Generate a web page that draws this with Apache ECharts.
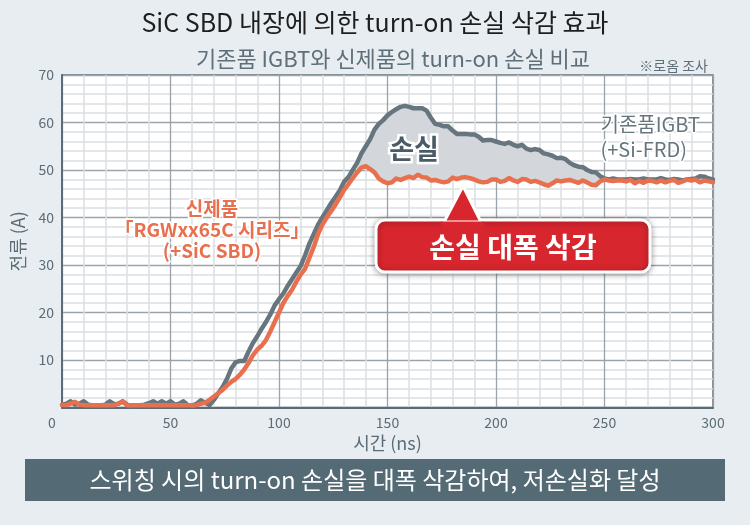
<!DOCTYPE html>
<html><head><meta charset="utf-8">
<script src="https://cdn.jsdelivr.net/npm/echarts@6/dist/echarts.min.js"></script>
<style>html,body{margin:0;padding:0;background:#e8edf1;}#c{width:750px;height:525px;}</style>
</head><body><div id="c"></div>
<script>
const times = [];
for (let t = 0; t <= 300; t += 2) times.push(t);
const igbtCurrent = [
0.6,0.8,1.3,0.6,0.8,1.3,0.6,0.5,0.5,0.5,
0.6,1.3,0.7,0.8,1.3,0.6,0.2,0.5,0.5,0.6,
0.9,1.3,0.8,1.3,0.8,1.3,0.6,0.8,1.3,0.5,
0.4,0.8,1.5,1.0,0.5,1.6,3.0,4.3,6.0,8.2,
9.5,9.8,9.8,11.8,13.6,15.0,16.6,18.0,19.6,21.5,
22.8,24.0,25.6,27.0,28.4,29.8,32.0,34.5,36.5,38.5,
40.0,41.5,43.0,44.3,45.7,47.5,48.5,50.0,51.5,53.5,
55.0,56.5,58.5,59.7,60.5,61.5,62.2,62.8,63.3,63.5,
63.3,63.0,63.0,63.0,62.5,61.0,59.7,59.5,59.2,59.2,
58.3,57.6,57.6,57.6,57.5,57.5,57.0,56.2,56.3,56.3,
56.0,55.7,55.5,55.8,55.3,55.0,55.3,54.5,54.2,54.4,
54.2,53.5,53.3,53.0,52.5,52.6,52.3,51.5,51.0,50.7,
50.6,50.0,49.6,49.5,48.7,48.2,48.0,48.2,48.0,48.0,
48.0,48.1,48.0,48.0,48.2,48.0,48.0,48.0,48.3,48.0,
47.9,48.1,48.0,47.8,48.0,48.1,48.2,48.7,48.6,48.2,
48.0];
const sicCurrent = [
0.6,0.5,0.8,1.2,0.6,0.5,0.5,0.5,0.5,0.5,
0.5,0.5,0.5,0.8,1.2,0.5,0.5,0.5,0.5,0.5,
0.5,0.5,0.5,0.5,0.5,0.5,0.5,0.5,0.5,0.5,
0.4,0.5,0.8,1.0,1.6,2.3,3.0,3.7,4.6,5.4,
6.0,6.9,8.0,9.4,11.0,12.2,13.0,14.2,16.0,18.0,
20.0,22.0,23.5,24.8,26.5,28.0,29.2,31.5,33.8,36.5,
38.5,40.0,41.3,42.7,44.2,45.8,47.0,48.3,49.5,50.5,
50.8,50.2,49.5,48.2,47.6,47.2,47.4,48.2,47.9,48.3,
48.6,48.3,49.0,48.5,48.4,47.8,47.9,47.6,47.4,47.6,
48.4,48.1,48.4,48.5,48.3,48.0,47.6,47.4,47.5,48.0,
48.0,47.5,47.7,48.3,47.8,47.5,48.1,48.0,47.5,47.7,
47.4,47.0,46.7,47.2,47.8,47.6,47.8,47.9,47.6,47.3,
47.8,47.4,46.9,46.8,47.6,48.0,47.8,47.7,47.8,47.8,
47.6,47.9,47.2,47.7,47.3,47.8,47.7,47.4,47.8,47.4,
47.7,47.9,47.3,47.6,48.0,47.8,48.0,47.4,47.8,47.6,
47.4];
const lossStart = 136, lossEnd = 256;
const xTicks = [0, 50, 100, 150, 200, 250, 300];
const yTicks = [0, 10, 20, 30, 40, 50, 60, 70];

const gPairs = times.map((t,i)=>[t, igbtCurrent[i]]);
const sPairs = times.map((t,i)=>[t, sicCurrent[i]]);

const chart = echarts.init(document.getElementById('c'), null, {renderer:'canvas'});
const FF = '"Noto Sans CJK KR", "Noto Sans", sans-serif';
const axisCol = '#5b6c76';
const red = '#d8262e';
chart.setOption({
  backgroundColor: '#e8edf1',
  animation: false,
  title: [
    {text: 'SiC SBD 내장에 의한 turn-on 손실 삭감 효과', left: 'center', top: 5,
     textStyle: {fontFamily: FF, fontSize: 25, fontWeight: 'normal', color: '#1e1e1e'}},
    {text: '기존품 IGBT와 신제품의 turn-on 손실 비교', left: 388, top: 43, textAlign: 'center',
     textStyle: {fontFamily: FF, fontSize: 22, fontWeight: 'normal', color: '#5e6f79'}},
    {text: '※로옴 조사', right: 37, top: 54,
     textStyle: {fontFamily: FF, fontSize: 14, fontWeight: 'normal', color: '#5e6f79'}}
  ],
  grid: {left: 62, right: 37, top: 75, bottom: 117.5, show: true, backgroundColor: '#ffffff',
         borderColor: axisCol, borderWidth: 1.5},
  xAxis: {
    type: 'value', min: 0, max: 300, interval: 50,
    name: '시간 (ns)', nameLocation: 'middle', nameGap: 27,
    nameTextStyle: {fontFamily: FF, fontSize: 18, color: axisCol},
    axisLine: {show: true, lineStyle: {color: axisCol, width: 2}},
    axisTick: {show: false},
    axisLabel: {fontFamily: FF, fontSize: 14, color: axisCol, margin: 8,
      formatter: v => v === xTicks[0] ? '{z|' + v + '}' : String(v),
      rich: {z: {fontFamily: FF, fontSize: 14, color: axisCol, padding: [0, 20, 0, 0]}}},
    splitLine: {show: true, lineStyle: {color: '#9aa3a9', width: 1.3}},
    minorTick: {show: false, splitNumber: 5},
    minorSplitLine: {show: true, lineStyle: {color: '#dcdfe2', width: 1.5}}
  },
  yAxis: {
    type: 'value', min: 0, max: 70, interval: 10,
    name: '전류 (A)', nameLocation: 'middle', nameGap: 32, nameRotate: 90,
    nameTextStyle: {fontFamily: FF, fontSize: 18, color: axisCol},
    axisLine: {show: true, lineStyle: {color: axisCol, width: 2}},
    axisTick: {show: false},
    axisLabel: {fontFamily: FF, fontSize: 14, color: axisCol, margin: 8, showMinLabel: false},
    splitLine: {show: true, lineStyle: {color: '#9aa3a9', width: 1.3}},
    minorTick: {show: false, splitNumber: 5},
    minorSplitLine: {show: true, lineStyle: {color: '#dcdfe2', width: 1.5}}
  },
  series: [
    {type: 'custom', silent: true, z: 1, data: [[lossStart, lossEnd]],
     renderItem: function (params, api) {
       const upper = [], lower = [];
       times.forEach((t, i) => {
         if (t >= lossStart && t <= lossEnd) {
           upper.push(api.coord([t, igbtCurrent[i]]));
           lower.push(api.coord([t, Math.min(sicCurrent[i], igbtCurrent[i])]));
         }
       });
       return {type: 'polygon', shape: {points: upper.concat(lower.reverse())},
               style: {fill: '#d3d6da'}};
     }},
    {type: 'line', name: '기존품IGBT', data: gPairs, symbol: 'none', smooth: false,
     lineStyle: {color: '#66757e', width: 4.5, join: 'round', cap: 'round'}, z: 3},
    {type: 'line', name: '신제품', data: sPairs, symbol: 'none', smooth: false,
     lineStyle: {color: '#e8704f', width: 4.5, join: 'round', cap: 'round'}, z: 4}
  ],
  graphic: [
    {type: 'text', left: 599, top: 112, z: 10, style: {text: '기존품IGBT\n(+Si-FRD)', fontFamily: FF, fontSize: 20,
      lineHeight: 25, fill: '#66757e', stroke: '#ffffff', lineWidth: 3}},
    {type: 'text', x: 414, y: 149, z: 10, style: {text: '손실', fontFamily: FF, fontSize: 27, fontWeight: 'bold',
      fill: '#4a5b66', stroke: '#ffffff', lineWidth: 5, align: 'center', verticalAlign: 'middle'}},
    {type: 'text', x: 212, y: 230, z: 10, style: {text: '신제품\n「RGWxx65C 시리즈」\n(+SiC SBD)', fontFamily: FF, fontSize: 19,
      fontWeight: 'bold', lineHeight: 21, fill: '#e8704f', stroke: '#ffffff', lineWidth: 3, align: 'center', verticalAlign: 'middle'}},
    {type: 'rect', z: 20, shape: {x: 376, y: 220, width: 274, height: 52, r: 9},
     style: {fill: red, stroke: '#ffffff', lineWidth: 3, shadowBlur: 6, shadowColor: 'rgba(0,0,0,0.35)', shadowOffsetY: 1}},
    {type: 'polygon', z: 21, shape: {points: [[444, 222], [463, 186], [481, 222]]},
     style: {fill: red, stroke: '#ffffff', lineWidth: 3}},
    {type: 'rect', z: 22, shape: {x: 441, y: 221.6, width: 43, height: 6}, style: {fill: red}},
    {type: 'text', z: 23, x: 513, y: 247, style: {text: '손실 대폭 삭감', fontFamily: FF, fontSize: 28, fontWeight: 'bold',
      fill: '#ffffff', align: 'center', verticalAlign: 'middle'}},
    {type: 'rect', z: 5, shape: {x: 25, y: 459, width: 700, height: 42}, style: {fill: '#546a75'}},
    {type: 'text', z: 6, x: 375, y: 480, style: {text: '스위칭 시의 turn-on 손실을 대폭 삭감하여, 저손실화 달성', fontFamily: FF,
      fontSize: 24, fill: '#ffffff', align: 'center', verticalAlign: 'middle'}}
  ]
});
</script></body></html>
